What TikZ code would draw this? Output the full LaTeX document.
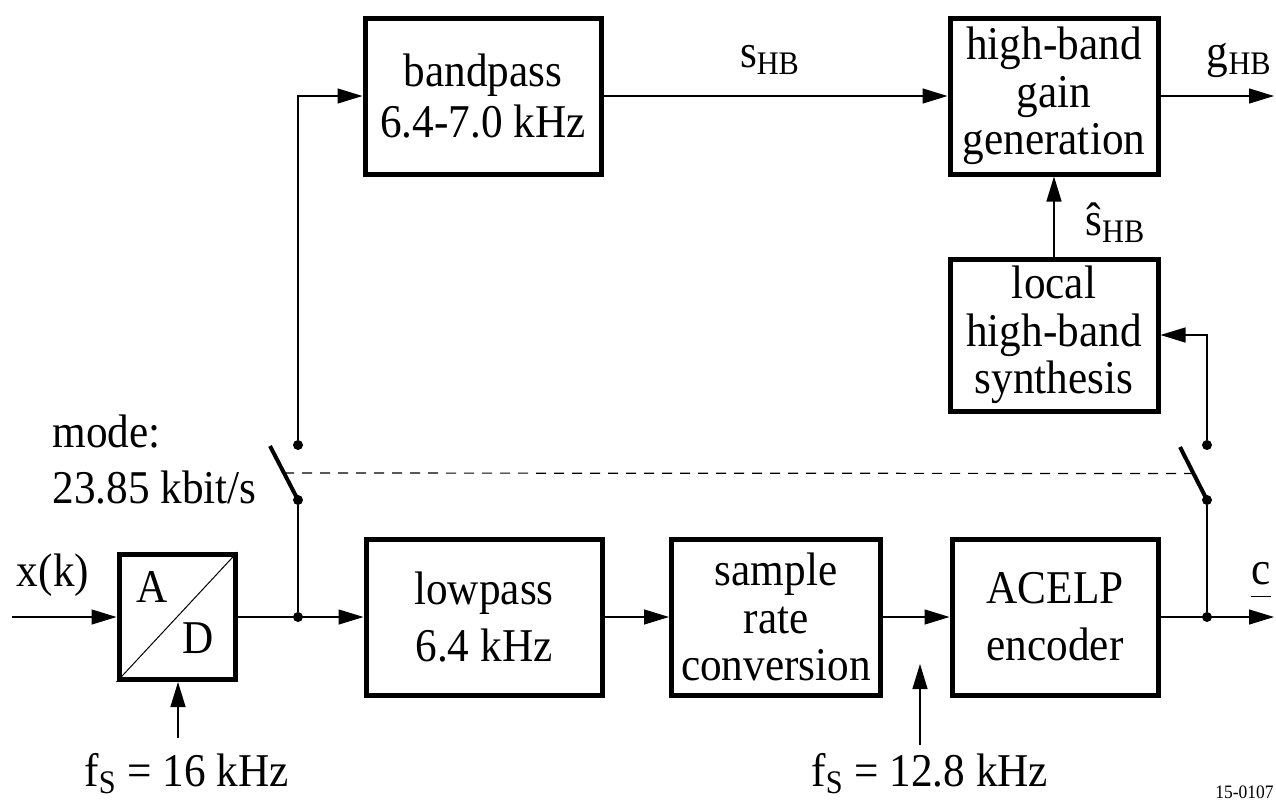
\documentclass[tikz,border=0pt]{standalone}
\usepackage{fontspec}
\setmainfont{Liberation Serif}[FakeStretch=0.92]
\usetikzlibrary{arrows.meta,calc}

\begin{document}
\begin{tikzpicture}[x=0.5pt,y=-0.5pt]
\tikzset{
  every node/.style={font=\fontsize{23.5}{23.75}\selectfont, inner sep=1pt},
  block/.style={draw, line width=2.5pt, align=center, inner sep=2pt, minimum height=78pt},
  twoline/.style={font=\fontsize{23.5}{#1}\selectfont},
  twoline/.default=28.5pt,
  sig/.style={line width=0.6pt, -{Triangle[length=12.5pt,width=7.5pt]}},
  wire/.style={line width=0.6pt},
  dot/.style={circle, fill, inner sep=0pt, minimum size=5pt},
  blade/.style={line width=2pt},
}
\useasboundingbox (0,0) rectangle (1276,805);

% upper branch
\node [block, twoline=25.5pt, minimum width=118pt] (bandpass) at (483,96) {bandpass\\6.4-7.0 kHz};
\node [block, minimum width=104pt] (gain) at (1054,96) {high-band\\gain\\generation};
\node [block, minimum width=104pt, minimum height=76pt] (synth) at (1054,335) {local\\high-band\\synthesis};

% lower branch
\node [block, minimum width=58pt, minimum height=62.5pt] (ad) at (177,617) {};
\node [block, twoline, minimum width=118pt] (lowpass) at (484,617) {lowpass\\6.4 kHz};
\node [block, minimum width=104.5pt] (src) at (776,617) {sample\\rate\\conversion};
\node [block, twoline, minimum width=103pt] (acelp) at (1055,617) {ACELP\\encoder};

\draw [line width=0.5pt] (ad.south west) -- (ad.north east);
\node [anchor=base] (ada) at (152,602) {A};
\node [anchor=base] (add) at (198,653) {D};

% switches
\node [dot] (s1t) at (298,445) {};
\node [dot] (s1b) at (298,500) {};
\node [dot] (j1) at (298,617) {};
\coordinate (b1) at (270,446);
\node [dot] (s2t) at (1207,445) {};
\node [dot] (s2b) at (1207,500) {};
\node [dot] (j2) at (1207,617) {};
\coordinate (b2) at (1180,447);

\coordinate (xin) at (12,617);
\coordinate (gout) at (1274,96);
\coordinate (cout) at (1274,617);
\coordinate (fa) at (178,738);
\coordinate (fb) at (920,745);
\coordinate (fbend) at (920,664);

\draw [sig] (xin) -- (ad);
\draw [sig] (ad) -- (lowpass);
\draw [sig] (lowpass) -- (src);
\draw [sig] (src) -- (acelp);
\draw [sig] (acelp) -- (cout);
\draw [sig] (bandpass) -- (gain);
\draw [sig] (gain) -- (gout);
\draw [sig] (synth) -- (gain);

\draw [wire] (j1) -- (s1b);
\draw [blade] (s1b.center) -- (b1);
\draw [sig] (s1t) |- (bandpass);
\draw [wire] (j2) -- (s2b);
\draw [blade] (s2b.center) -- (b2);
\draw [sig] (s2t) |- (synth);

\coordinate (m1) at ($(s1b.center)!0.5!(b1)$);
\coordinate (m2) at ($(s2b.center)!0.5!(b2)$);
\draw [wire, dash pattern=on 5pt off 4pt] (m1) -- (m2);

\draw [sig] (fa) -- (fa |- ad.south);
\draw [sig] (fb) -- (fbend);

% labels
\node [anchor=base] (xk) at (53,586) {x(k)};
\node [anchor=base west] (mode) at (50,447) {mode:};
\node [anchor=base west] (rate) at (50,503) {23.85 kbit/s};
\node [anchor=base] (shb) at (770,67) {s\textsubscript{HB}};
\node [anchor=base east] (ghb) at (1274,67) {g\textsubscript{HB}};
\node [anchor=base west] (shbhat) at (1083,235) {\^{s}\textsubscript{HB}};
\node [anchor=base east] (cl) at (1273,584) {\underline{c\vphantom{p}}};
\node [anchor=base west] (fs1) at (82,786) {f\textsubscript{S} = 16 kHz};
\node [anchor=base west] (fs2) at (809,786) {f\textsubscript{S} = 12.8 kHz};
\node [anchor=base east, font=\fontsize{9.5}{10}\selectfont] (fig) at (1276,798) {15-0107};
\end{tikzpicture}
\end{document}
